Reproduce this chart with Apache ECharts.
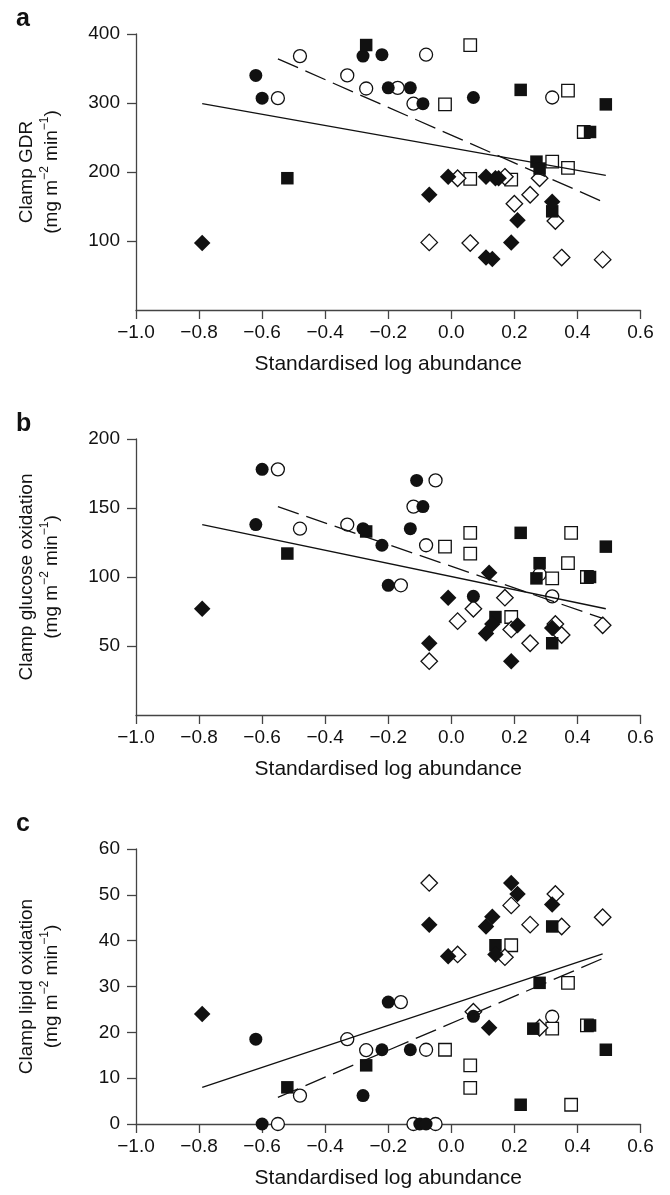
<!DOCTYPE html>
<html>
<head>
<meta charset="utf-8">
<script src="https://cdn.jsdelivr.net/npm/echarts@6/dist/echarts.min.js"></script>
<style>
html, body { margin: 0; padding: 0; background: #fff; }
#chart { width: 670px; height: 1195px; }
</style>
</head>
<body>
<div id="chart"></div>
<script>
// shared x scale
var xMin = -1.0, xMax = 0.6, xStep = 0.2;
var panelLetters = ['a', 'b', 'c'];
var yNames = ['Clamp GDR', 'Clamp glucose oxidation', 'Clamp lipid oxidation'];
var yUnit = '(mg m{sup|\u22122} min{sup|\u22121})';
var yMins = [0, 0, 0];
var yMaxs = [400, 200, 60];
var ySteps = [100, 50, 10];
var yTickValues = [[100, 200, 300, 400], [50, 100, 150, 200], [0, 10, 20, 30, 40, 50, 60]];

// panel a - clamp GDR
var gdrFilledCircle = [[-0.62, 340], [-0.60, 307], [-0.28, 368], [-0.22, 370], [-0.20, 322], [-0.13, 322], [-0.09, 299], [0.07, 308]];
var gdrOpenCircle = [[-0.55, 307], [-0.48, 368], [-0.33, 340], [-0.27, 321], [-0.17, 322], [-0.12, 299], [-0.08, 370], [0.32, 308]];
var gdrFilledSquare = [[-0.52, 191], [-0.27, 384], [0.22, 319], [0.27, 215], [0.28, 205], [0.44, 258], [0.49, 298], [0.32, 143]];
var gdrOpenSquare = [[-0.02, 298], [0.06, 384], [0.06, 190], [0.19, 189], [0.32, 215], [0.37, 206], [0.37, 318], [0.42, 258]];
var gdrFilledDiamond = [[-0.79, 97], [-0.07, 167], [-0.01, 193], [0.11, 193], [0.14, 191], [0.15, 191], [0.21, 130], [0.19, 98], [0.11, 76], [0.13, 74], [0.32, 157]];
var gdrOpenDiamond = [[-0.07, 98], [0.02, 191], [0.06, 97], [0.17, 193], [0.20, 154], [0.25, 167], [0.28, 191], [0.33, 129], [0.35, 76], [0.48, 73]];
var gdrSolid = [[-0.79, 299], [0.49, 195]];
var gdrDashed = [[-0.55, 364], [0.48, 157]];

// panel b - clamp glucose oxidation
var gluFilledCircle = [[-0.60, 178], [-0.62, 138], [-0.28, 135], [-0.11, 170], [-0.09, 151], [-0.13, 135], [-0.22, 123], [-0.20, 94], [0.07, 86]];
var gluOpenCircle = [[-0.55, 178], [-0.48, 135], [-0.33, 138], [-0.05, 170], [-0.12, 151], [-0.08, 123], [-0.16, 94], [0.28, 102], [0.32, 86]];
var gluFilledSquare = [[-0.52, 117], [-0.27, 133], [0.22, 132], [0.49, 122], [0.28, 110], [0.27, 99], [0.44, 100], [0.14, 71], [0.32, 52]];
var gluOpenSquare = [[-0.02, 122], [0.06, 132], [0.06, 117], [0.38, 132], [0.37, 110], [0.32, 99], [0.43, 100], [0.19, 71]];
var gluFilledDiamond = [[-0.79, 77], [-0.07, 52], [-0.01, 85], [0.12, 103], [0.13, 66], [0.11, 59], [0.21, 65], [0.32, 63], [0.19, 39]];
var gluOpenDiamond = [[-0.07, 39], [0.02, 68], [0.07, 77], [0.17, 85], [0.19, 62], [0.25, 52], [0.33, 66], [0.35, 58], [0.48, 65]];
var gluSolid = [[-0.79, 138], [0.49, 77]];
var gluDashed = [[-0.55, 151], [0.48, 70]];

// panel c - clamp lipid oxidation
var lipFilledCircle = [[-0.62, 18.5], [-0.60, 0], [-0.28, 6.2], [-0.22, 16.2], [-0.20, 26.6], [-0.13, 16.2], [-0.10, 0], [-0.08, 0], [0.07, 23.5]];
var lipOpenCircle = [[-0.55, 0], [-0.48, 6.2], [-0.33, 18.5], [-0.27, 16.1], [-0.16, 26.6], [-0.08, 16.2], [-0.12, 0], [-0.05, 0], [0.32, 23.4]];
var lipFilledSquare = [[-0.52, 8], [-0.27, 12.8], [0.14, 39], [0.32, 43.1], [0.28, 30.8], [0.26, 20.8], [0.44, 21.5], [0.49, 16.2], [0.22, 4.2]];
var lipOpenSquare = [[-0.02, 16.2], [0.06, 12.8], [0.06, 7.9], [0.19, 39], [0.37, 30.8], [0.32, 20.8], [0.43, 21.5], [0.38, 4.2]];
var lipFilledDiamond = [[-0.79, 24], [-0.07, 43.5], [-0.01, 36.6], [0.12, 21], [0.14, 37], [0.13, 45.2], [0.11, 43.1], [0.19, 52.6], [0.21, 50.2], [0.32, 47.9]];
var lipOpenDiamond = [[-0.07, 52.6], [0.02, 37], [0.07, 24.5], [0.17, 36.4], [0.19, 47.7], [0.25, 43.5], [0.33, 50.2], [0.35, 43.1], [0.48, 45.1], [0.28, 21]];
var lipSolid = [[-0.79, 8], [0.48, 37.1]];
var lipDashed = [[-0.55, 5.8], [0.49, 36.4]];

var panels = [
    [gdrOpenCircle, gdrOpenSquare, gdrOpenDiamond, gdrFilledCircle, gdrFilledSquare, gdrFilledDiamond, gdrSolid, gdrDashed],
    [gluOpenCircle, gluOpenSquare, gluOpenDiamond, gluFilledCircle, gluFilledSquare, gluFilledDiamond, gluSolid, gluDashed],
    [lipOpenCircle, lipOpenSquare, lipOpenDiamond, lipFilledCircle, lipFilledSquare, lipFilledDiamond, lipSolid, lipDashed]
];

var FONT = '"Liberation Sans", Arial, Helvetica, sans-serif';
var INK = '#111';
var AXIS = '#444';
var gridTops = [34, 439, 849];
var gridHeights = [276, 276, 275];
var letterY = [19, 424, 824];

// marker looks: open first so the filled ones sit on top
var markers = [
    { symbol: 'circle', size: 13, filled: false },
    { symbol: 'rect', size: 12.5, filled: false },
    { symbol: 'diamond', size: 16.5, filled: false },
    { symbol: 'circle', size: 13, filled: true },
    { symbol: 'rect', size: 12.5, filled: true },
    { symbol: 'diamond', size: 16.5, filled: true }
];

function fmtX(v) {
    var s = Math.abs(v).toFixed(1);
    return (v < -1e-9 ? '\u2212' : '') + s;
}

var chart = echarts.init(document.getElementById('chart'), null, { renderer: 'canvas' });

var grid = [], xAxis = [], yAxis = [], series = [], graphic = [];

for (var p = 0; p < 3; p++) {
    grid.push({ left: 136, right: 29.5, top: gridTops[p], height: gridHeights[p] });

    xAxis.push({
        type: 'value', gridIndex: p,
        min: xMin, max: xMax, interval: xStep,
        name: 'Standardised log abundance', nameLocation: 'middle', nameGap: 44,
        nameTextStyle: { fontFamily: FONT, fontSize: 21, color: INK },
        axisLine: { show: true, onZero: false, lineStyle: { color: AXIS, width: 1.3 } },
        axisTick: { show: true, inside: false, length: 9, lineStyle: { color: AXIS, width: 1.3 } },
        axisLabel: { margin: 13, fontFamily: FONT, fontSize: 19, color: INK, formatter: fmtX },
        splitLine: { show: false }
    });

    yAxis.push({
        type: 'value', gridIndex: p,
        min: yMins[p], max: yMaxs[p], interval: ySteps[p],
        name: yNames[p] + '\n' + yUnit, nameLocation: 'middle', nameRotate: 90, nameGap: 72,
        nameTextStyle: {
            fontFamily: FONT, fontSize: 19, color: INK, lineHeight: 25,
            rich: { sup: { fontFamily: FONT, fontSize: 12, color: INK, verticalAlign: 'top', lineHeight: 25 } }
        },
        axisLine: { show: true, onZero: false, lineStyle: { color: AXIS, width: 1.3 } },
        axisTick: { show: true, inside: false, length: 9, lineStyle: { color: AXIS, width: 1.3 }, customValues: yTickValues[p] },
        axisLabel: { margin: 16, fontFamily: FONT, fontSize: 19, color: INK, customValues: yTickValues[p] },
        splitLine: { show: false }
    });

    for (var m = 0; m < markers.length; m++) {
        var mk = markers[m];
        series.push({
            type: 'scatter', xAxisIndex: p, yAxisIndex: p,
            symbol: mk.symbol, symbolSize: mk.size,
            data: panels[p][m],
            z: mk.filled ? 3 : 2,
            silent: true,
            itemStyle: mk.filled
                ? { color: INK, borderColor: INK, borderWidth: 0, opacity: 1 }
                : { color: '#fff', borderColor: INK, borderWidth: 1.3, opacity: 1 }
        });
    }

    // fitted lines: solid and dashed
    series.push({
        type: 'line', xAxisIndex: p, yAxisIndex: p, data: panels[p][6],
        showSymbol: false, symbol: 'none', z: 4, silent: true,
        lineStyle: { color: INK, width: 1.3, type: 'solid' }
    });
    series.push({
        type: 'line', xAxisIndex: p, yAxisIndex: p, data: panels[p][7],
        showSymbol: false, symbol: 'none', z: 4, silent: true,
        lineStyle: { color: INK, width: 1.3, type: [22, 8] }
    });

    graphic.push({
        type: 'text', left: 16, top: letterY[p] - 12,
        style: { text: panelLetters[p], fontFamily: FONT, fontWeight: 'bold', fontSize: 25, fill: INK }
    });
}

chart.setOption({
    animation: false,
    backgroundColor: '#fff',
    grid: grid,
    xAxis: xAxis,
    yAxis: yAxis,
    series: series,
    graphic: graphic
});
</script>
</body>
</html>
